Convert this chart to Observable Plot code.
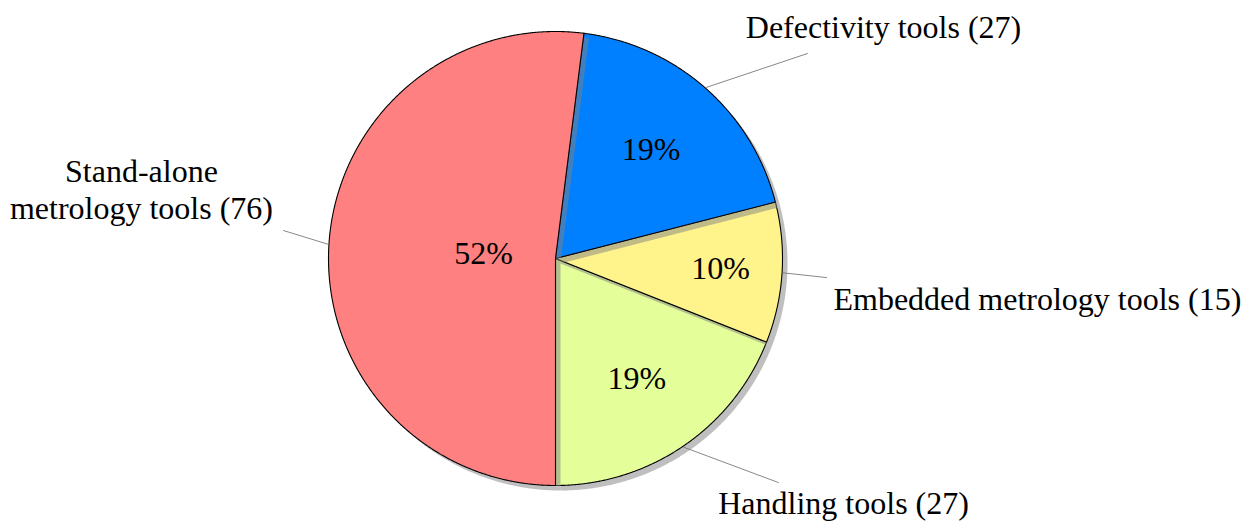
<!DOCTYPE html>
<html>
<head>
<meta charset="utf-8">
<script src="https://cdn.jsdelivr.net/npm/d3@7"></script>
<script src="https://cdn.jsdelivr.net/npm/@observablehq/plot@0.6"></script>
<style>
  html, body { margin: 0; padding: 0; background: #fff; }
  #chart svg { display: block; }
  #chart svg text { font-family: "Liberation Serif", "DejaVu Serif", serif !important; }
</style>
</head>
<body>
<div id="chart"></div>
<script>
// ---- data ----
const categories = ["Stand-alone metrology tools", "Defectivity tools", "Embedded metrology tools", "Handling tools"];
const counts = [76, 27, 15, 27];
const percents = [52, 19, 10, 19];
const outerLabels = ["Stand-alone\nmetrology tools (76)", "Defectivity tools (27)", "Embedded metrology tools (15)", "Handling tools (27)"];

// ---- presentation ----
const colors = ["#ff8080", "#0080ff", "#fff48c", "#e4fe9a"];
const pctRadius = [0.318, 0.637, 0.729, 0.638];          // inner label distance (in radii)
const labelPos = [[-1.824, 0.306], [1.445, 1.022], [2.123, -0.176], [1.269, -1.075]];
const leaderEnd = [[-1.198, 0.123], [1.110, 0.903], [1.194, -0.084], [0.982, -0.987]];
const FONT = "Liberation Serif, DejaVu Serif, serif";
const FS = 32;

const W = 1259, H = 523, CX = 555, CY = 258, R = 227;

const arcs = d3.pie().sort(null).startAngle(Math.PI).endAngle(3 * Math.PI)(percents);

function slicePoints(a) {
  const pts = [{x: 0, y: 0}];
  const n = Math.max(2, Math.ceil((a.endAngle - a.startAngle) / (Math.PI / 720)));
  for (let i = 0; i <= n; i++) {
    const t = a.startAngle + (a.endAngle - a.startAngle) * i / n;
    pts.push({x: Math.sin(t), y: Math.cos(t)});
  }
  pts.push({x: 0, y: 0});
  return pts;
}

const marks = [];
// draw in reverse order so each slice's shadow falls on the previously drawn neighbours
for (let k = arcs.length - 1; k >= 0; k--) {
  const pts = slicePoints(arcs[k]);
  marks.push(Plot.line(pts, {x: "x", y: "y", curve: "linear", fill: "#808080", fillOpacity: 0.5, stroke: "none", dx: 5, dy: 5}));
  marks.push(Plot.line(pts, {x: "x", y: "y", curve: "linear", fill: colors[k], stroke: "black", strokeWidth: 1.1, strokeLinejoin: "round"}));
}

const mid = arcs.map(a => (a.startAngle + a.endAngle) / 2);

// leader lines
const leaders = [];
categories.forEach((c, i) => {
  leaders.push({cat: c, x: Math.sin(mid[i]) * 1.005, y: Math.cos(mid[i]) * 1.005});
  leaders.push({cat: c, x: leaderEnd[i][0], y: leaderEnd[i][1]});
});
marks.push(Plot.line(leaders, {x: "x", y: "y", z: "cat", stroke: "#7a7a7a", strokeWidth: 0.9}));

// percent labels
const pctData = categories.map((c, i) => ({
  text: percents[i] + "%",
  x: Math.sin(mid[i]) * pctRadius[i],
  y: Math.cos(mid[i]) * pctRadius[i]
}));
marks.push(Plot.text(pctData, {x: "x", y: "y", text: "text", fontSize: FS, fontFamily: FONT, fill: "black", textAnchor: "middle", lineAnchor: "middle"}));

// outer labels
const outData = categories.map((c, i) => ({text: outerLabels[i], x: labelPos[i][0], y: labelPos[i][1]}));
marks.push(Plot.text(outData, {x: "x", y: "y", text: "text", fontSize: FS, fontFamily: FONT, fill: "black", textAnchor: "middle", lineAnchor: "middle", lineHeight: 1.16}));

const chart = Plot.plot({
  width: W,
  height: H,
  margin: 0,
  x: {domain: [-CX / R, (W - CX) / R], range: [0, W], axis: null},
  y: {domain: [-(H - CY) / R, CY / R], range: [H, 0], axis: null},
  style: {background: "#fff", fontFamily: FONT},
  marks
});
document.getElementById("chart").appendChild(chart);
</script>
</body>
</html>
